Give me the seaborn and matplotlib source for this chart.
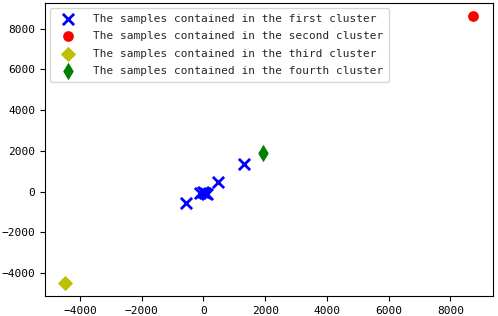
import matplotlib
matplotlib.use('Agg')
import matplotlib.pyplot as plt
import pandas as pd
import seaborn as sns

# cluster samples (x, y)
first_x = [-560, -100, 0, 60, 120, 480, 1300]
first_y = [-560, -60, -30, -80, -110, 480, 1350]
second_x = [8720]
second_y = [8600]
third_x = [-4480]
third_y = [-4480]
fourth_x = [1920]
fourth_y = [1900]

labels = [
    'The samples contained in the first cluster',
    'The samples contained in the second cluster',
    'The samples contained in the third cluster',
    'The samples contained in the fourth cluster',
]

sns.set_style('ticks')
plt.rcParams['font.family'] = ['DejaVu Sans Mono', 'DejaVu Sans']
plt.rcParams['axes.edgecolor'] = 'black'
plt.rcParams['xtick.color'] = 'black'
plt.rcParams['ytick.color'] = 'black'

fig = plt.figure(figsize=(4.98, 3.16), dpi=100)
ax = fig.add_axes([0.09, 0.063, 0.9, 0.927])

sns.scatterplot(x=first_x, y=first_y, marker='x', color='blue', s=65, linewidth=2, label=labels[0], ax=ax)
sns.scatterplot(x=second_x, y=second_y, marker='o', color='red', s=60, linewidth=0, label=labels[1], ax=ax)
sns.scatterplot(x=third_x, y=third_y, marker='D', color='y', s=60, linewidth=0, label=labels[2], ax=ax)
sns.scatterplot(x=fourth_x, y=fourth_y, marker='d', color='green', s=80, linewidth=0, label=labels[3], ax=ax)

ax.tick_params(labelsize=8, length=3.5, width=0.8)
ax.legend(loc='upper left', fontsize=8, frameon=True, handletextpad=1.1,
          handlelength=2.3, labelspacing=0.68, borderpad=0.5, borderaxespad=0.45)
for s in ax.spines.values():
    s.set_linewidth(0.8)

fig.savefig('out.png', dpi=100)
